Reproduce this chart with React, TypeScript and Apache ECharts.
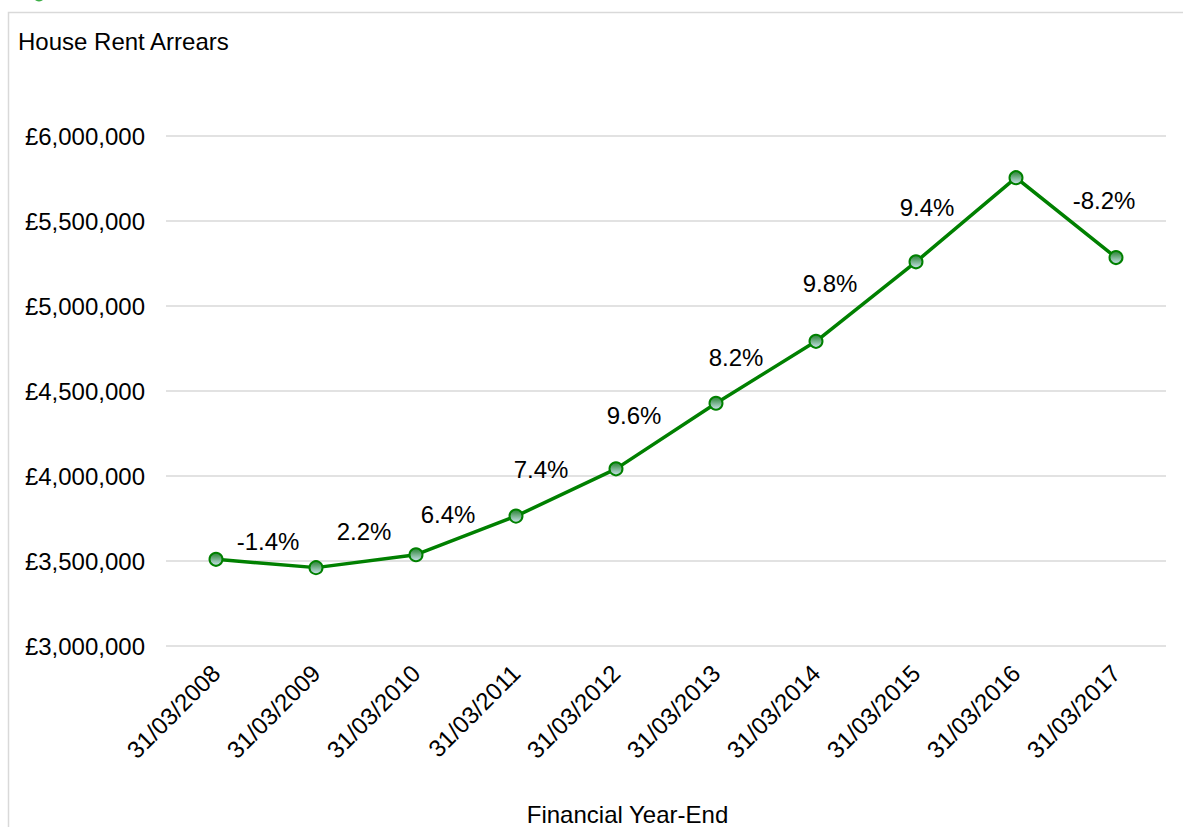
import React, { useEffect, useRef } from "react";
import * as echarts from "echarts";

const categories = [
  "31/03/2008", "31/03/2009", "31/03/2010", "31/03/2011", "31/03/2012",
  "31/03/2013", "31/03/2014", "31/03/2015", "31/03/2016", "31/03/2017",
];
const arrears = [3510000, 3461000, 3537000, 3764000, 4042000, 4428000, 4792000, 5260000, 5755000, 5285000];
const changeLabels = ["", "-1.4%", "2.2%", "6.4%", "7.4%", "9.6%", "8.2%", "9.8%", "9.4%", "-8.2%"];
const yTicks = { min: 3000000, max: 6000000, interval: 500000 };

// label placement (styling), relative to each point
const labelOffsets: [number, number][] = [
  [0, 0], [-48, -26], [-52, -23], [-68, -2], [-75, 1], [-82, 12], [-80, 16], [-86, 22], [-89, 30], [-12, -57],
];

const FONT = "'Liberation Sans', Arial, sans-serif";

export default function App() {
  const ref = useRef<HTMLDivElement>(null);
  useEffect(() => {
    if (!ref.current) return;
    const chart = echarts.init(ref.current, undefined, { renderer: "svg" });
    const data = arrears.map((v, i) => ({
      value: v,
      label: {
        show: i > 0,
        formatter: changeLabels[i],
        position: "inside",
        offset: labelOffsets[i],
        fontSize: 24,
        fontFamily: FONT,
        color: "#000",
        align: "center",
        verticalAlign: "middle",
      },
    }));
    chart.setOption({
      animation: false,
      backgroundColor: "#fff",
      textStyle: { fontFamily: FONT },
      title: [
        {
          text: "House Rent Arrears",
          left: 18,
          top: 29,
          padding: 0,
          textStyle: { fontSize: 24, fontWeight: "normal", color: "#000", fontFamily: FONT },
        },
        {
          text: "Financial Year-End",
          left: 627.5,
          textAlign: "center",
          top: 802,
          padding: 0,
          textStyle: { fontSize: 24, lineHeight: 24, fontWeight: "normal", color: "#000", fontFamily: FONT },
        },
      ],
      graphic: [
        {
          type: "rect",
          shape: { x: 8.5, y: 12.5, width: 1300, height: 900 },
          style: { fill: "none", stroke: "#d9d9d9", lineWidth: 1.5 },
          silent: true,
          z: -1,
        },
        {
          type: "circle",
          shape: { cx: 39, cy: -4, r: 5.5 },
          style: { fill: "#3cae47" },
          silent: true,
        },
      ],
      grid: { left: 166, right: 17, top: 136, bottom: 181, containLabel: false },
      xAxis: {
        type: "category",
        data: categories,
        boundaryGap: true,
        axisLine: { show: false },
        axisTick: { show: false },
        axisLabel: {
          rotate: 45,
          margin: 23,
          fontSize: 24,
          color: "#000",
          fontFamily: FONT,
          interval: 0,
        },
      },
      yAxis: {
        type: "value",
        min: yTicks.min,
        max: yTicks.max,
        interval: yTicks.interval,
        axisLine: { show: false },
        axisTick: { show: false },
        splitLine: { show: true, lineStyle: { color: "#d9d9d9", width: 1.5 } },
        axisLabel: {
          margin: 21,
          fontSize: 24,
          color: "#000",
          fontFamily: FONT,
          formatter: (v: number) => "£" + v.toLocaleString("en-GB"),
        },
      },
      series: [
        {
          type: "line",
          data,
          symbol: "circle",
          symbolSize: 13,
          lineStyle: { color: "#008000", width: 3.5 },
          itemStyle: {
            color: new echarts.graphic.LinearGradient(0, 0, 0, 1, [
              { offset: 0, color: "#2a8538" },
              { offset: 0.25, color: "#4f9a5e" },
              { offset: 1, color: "#cfe5f1" },
            ]),
            borderColor: "#008000",
            borderWidth: 2,
          },
          emphasis: { disabled: true },
        },
      ],
    });
    return () => chart.dispose();
  }, []);
  return (
    <div
      ref={ref}
      style={{ position: "fixed", left: 0, top: 0, width: 1183, height: 827 }}
    />
  );
}
